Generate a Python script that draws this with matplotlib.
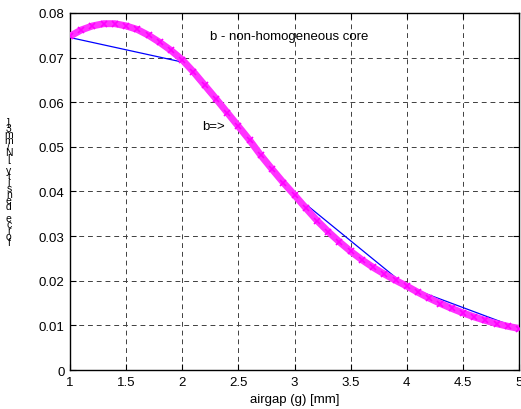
import matplotlib
matplotlib.use('Agg')
import matplotlib.pyplot as plt

# dense curve (x step 0.1)
gap = [1.0, 1.1, 1.2, 1.3, 1.4, 1.5, 1.6, 1.7, 1.8, 1.9,
       2.0, 2.1, 2.2, 2.3, 2.4, 2.5, 2.6, 2.7, 2.8, 2.9,
       3.0, 3.1, 3.2, 3.3, 3.4, 3.5, 3.6, 3.7, 3.8, 3.9,
       4.0, 4.1, 4.2, 4.3, 4.4, 4.5, 4.6, 4.7, 4.8, 4.9, 5.0]
force_b = [0.0748, 0.0762, 0.0771, 0.0776, 0.0776, 0.0771, 0.0763, 0.0750, 0.0734, 0.0716,
           0.0695, 0.0668, 0.0638, 0.0608, 0.0577, 0.0546, 0.0515, 0.0481, 0.0450, 0.0420,
           0.0392, 0.0363, 0.0335, 0.0310, 0.0287, 0.0266, 0.0247, 0.0230, 0.0215, 0.0201,
           0.0188, 0.0174, 0.0161, 0.0149, 0.0138, 0.0128, 0.0119, 0.0111, 0.0104, 0.0098, 0.0093]

# coarse points (blue line)
gap_coarse = [1, 2, 3, 4, 5]
force_coarse = [0.0745, 0.0690, 0.0392, 0.0187, 0.0093]

xticks = [1, 1.5, 2, 2.5, 3, 3.5, 4, 4.5, 5]
xticklabels = ['1', '1.5', '2', '2.5', '3', '3.5', '4', '4.5', '5']
yticks = [0, 0.01, 0.02, 0.03, 0.04, 0.05, 0.06, 0.07, 0.08]
yticklabels = ['0', '0.01', '0.02', '0.03', '0.04', '0.05', '0.06', '0.07', '0.08']

ylabel_txt = 'force density [N/mm3]'

plt.rcParams['font.family'] = ['Liberation Sans', 'DejaVu Sans']

fig = plt.figure(figsize=(5.21, 4.10), dpi=100)
ax = fig.add_axes([0.1344, 0.0951, 0.8618, 0.8708])

ax.plot(gap_coarse, force_coarse, color='#0000ff', lw=0.9, zorder=3)
ax.plot(gap, force_b, color='#ff33ff', lw=5, solid_capstyle='butt', zorder=4)
ax.plot(gap, force_b, color='#ff00ff', lw=0, marker='x', ms=4, mew=1.2, zorder=5)

ax.set_xlim(1, 5)
ax.set_ylim(0, 0.08)
ax.set_xticks(xticks)
ax.set_xticklabels(xticklabels)
ax.set_yticks(yticks)
ax.set_yticklabels(yticklabels)
ax.tick_params(direction='in', length=4, width=0.8, top=True, right=True,
               labelsize=9.5, pad=4)
for s in ax.spines.values():
    s.set_linewidth(1.0)
ax.grid(True, color='0.25', linestyle=(0, (5, 4)), linewidth=0.7)

ax.text(2.25, 0.0749, 'b - non-homogeneous core', fontsize=9.5, va='center')
ax.text(2.18, 0.0547, 'b=>', fontsize=9.5, va='center')

ax.set_xlabel('airgap (g) [mm]', fontsize=9.5, labelpad=4)

# stacked label as in the original printout
fig.text(0.017, 0.554, '\n'.join(ylabel_txt[::-1]), fontsize=7.5,
         linespacing=0.5, ha='center', va='center')

fig.savefig('out.png', dpi=100)
